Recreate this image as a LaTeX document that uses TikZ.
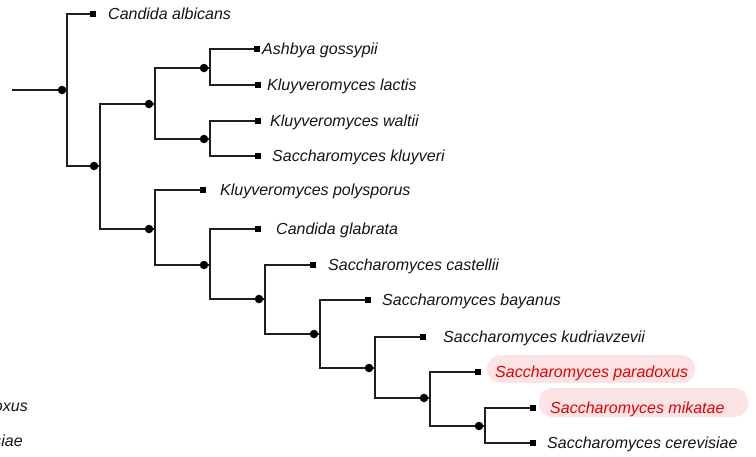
\documentclass[tikz,border=0pt]{standalone}
\usepackage{fontspec}
\setmainfont{Liberation Sans}
\definecolor{linec}{RGB}{30,30,30}
\definecolor{txtc}{RGB}{20,20,20}
\definecolor{redc}{RGB}{228,0,0}
\definecolor{hlc}{RGB}{253,228,228}
\begin{document}
\begin{tikzpicture}[x=1pt,y=-1pt,
  br/.style={draw=linec, line width=1.4pt},
  dotn/.style={circle, fill=black, inner sep=0pt, minimum size=8.5pt},
  leaf/.style={rectangle, fill=black, inner sep=0pt, minimum size=6pt},
  lab/.style={anchor=base west, inner sep=0pt, font=\fontsize{16}{19}\selectfont\itshape, text=txtc},
  ghost/.style={lab, anchor=base east},
  redlab/.style={lab, text=redc},
  hl/.style={fill=hlc, draw=none, rounded corners=13pt},
]
\useasboundingbox (0,0) rectangle (756,456);

% highlight boxes
\fill[hl] (487,355) rectangle (695,383);
\fill[hl] (539,388) rectangle (748,417);

% branch points (vertical line centres)
\coordinate (root) at (12,90);
\coordinate (n1v) at (67,90);
\coordinate (n2v) at (100,166);
\coordinate (n3v) at (155,104);
\coordinate (n4v) at (210,68);
\coordinate (n5v) at (210,139);
\coordinate (n7v) at (155,229);
\coordinate (n8v) at (210,265);
\coordinate (n9v) at (265,299);
\coordinate (n10v) at (320,334);
\coordinate (n11v) at (375,368);
\coordinate (n12v) at (430,398);
\coordinate (n13v) at (485,426);

% leaves
\node[leaf] (ca) at (93,14) {};
\node[leaf] (ag) at (257,49) {};
\node[leaf] (kl) at (258,85) {};
\node[leaf] (kw) at (258,121) {};
\node[leaf] (sk) at (258,156) {};
\node[leaf] (kp) at (203,190) {};
\node[leaf] (cg) at (258,229) {};
\node[leaf] (sc) at (313,265) {};
\node[leaf] (sb) at (368,300) {};
\node[leaf] (skd) at (423,337) {};
\node[leaf] (sp) at (478,372) {};
\node[leaf] (sm) at (533,408) {};
\node[leaf] (scer) at (533,443) {};

% connectors
\draw[br] (root) -- (n1v);
\draw[br] (n1v) |- (ca.west);
\draw[br] (n1v) |- (n2v);
\draw[br] (n2v) |- (n3v);
\draw[br] (n2v) |- (n7v);
\draw[br] (n3v) |- (n4v);
\draw[br] (n3v) |- (n5v);
\draw[br] (n4v) |- (ag.west);
\draw[br] (n4v) |- (kl.west);
\draw[br] (n5v) |- (kw.west);
\draw[br] (n5v) |- (sk.west);
\draw[br] (n7v) |- (kp.west);
\draw[br] (n7v) |- (n8v);
\draw[br] (n8v) |- (cg.west);
\draw[br] (n8v) |- (n9v);
\draw[br] (n9v) |- (sc.west);
\draw[br] (n9v) |- (n10v);
\draw[br] (n10v) |- (sb.west);
\draw[br] (n10v) |- (n11v);
\draw[br] (n11v) |- (skd.west);
\draw[br] (n11v) |- (n12v);
\draw[br] (n12v) |- (sp.west);
\draw[br] (n12v) |- (n13v);
\draw[br] (n13v) |- (sm.west);
\draw[br] (n13v) |- (scer.west);

% internal node dots
\node[dotn] (n1) at (62,90) {};
\node[dotn] (n2) at (94,166) {};
\node[dotn] (n3) at (149,104) {};
\node[dotn] (n4) at (204,68) {};
\node[dotn] (n5) at (204,139) {};
\node[dotn] (n7) at (149,229) {};
\node[dotn] (n8) at (204,265) {};
\node[dotn] (n9) at (259,299) {};
\node[dotn] (n10) at (314,334) {};
\node[dotn] (n11) at (369,368) {};
\node[dotn] (n12) at (424,398) {};
\node[dotn] (n13) at (479,426) {};

% labels
\node[lab] (tca) at (108,19) {Candida albicans};
\node[lab] (tag) at (262,54) {Ashbya gossypii};
\node[lab] (tkl) at (267,90) {Kluyveromyces lactis};
\node[lab] (tkw) at (270,126) {Kluyveromyces waltii};
\node[lab] (tsk) at (272,161) {Saccharomyces kluyveri};
\node[lab] (tkp) at (220,195) {Kluyveromyces polysporus};
\node[lab] (tcg) at (276,234) {Candida glabrata};
\node[lab] (tsc) at (328,270) {Saccharomyces castellii};
\node[lab] (tsb) at (382,305) {Saccharomyces bayanus};
\node[lab] (tskd) at (443,342) {Saccharomyces kudriavzevii};
\node[redlab] (tsp) at (495,377) {Saccharomyces paradoxus};
\node[redlab] (tsm) at (550,413) {Saccharomyces mikatae};
\node[lab] (tscer) at (547,448) {Saccharomyces cerevisiae};

% clipped labels at the left edge
\node[ghost] (g1) at (28,411) {Saccharomyces paradoxus};
\node[ghost] (g2) at (23,446) {Saccharomyces cerevisiae};
\end{tikzpicture}
\end{document}
